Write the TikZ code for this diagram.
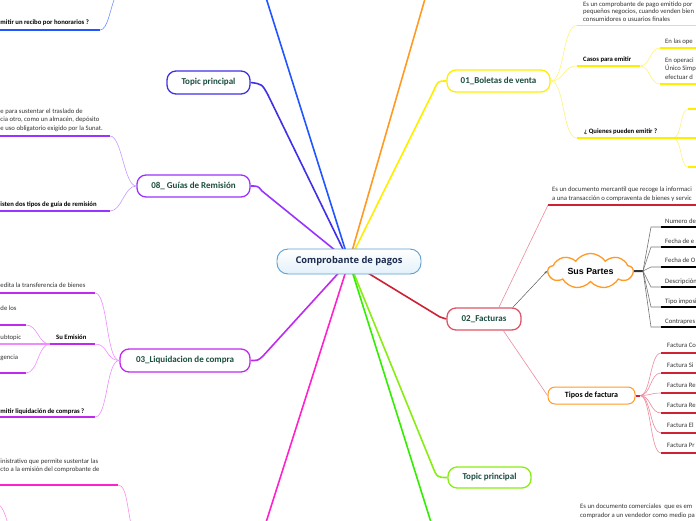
\documentclass[tikz,border=0pt]{standalone}
\usepackage{fontspec}
\setmainfont{Carlito}
\newfontfamily\osans{Open Sans}
\newfontfamily\lsans{Liberation Sans}
\usetikzlibrary{shapes.symbols,arrows.meta,backgrounds}
\definecolor{cblue}{HTML}{2255FF}
\definecolor{cblueL}{HTML}{7090FF}
\definecolor{cindigo}{HTML}{4030E8}
\definecolor{cpurple}{HTML}{9933FF}
\definecolor{cpurpleL}{HTML}{C49BFF}
\definecolor{cviolet}{HTML}{C02AEE}
\definecolor{cvioletL}{HTML}{EE8CFF}
\definecolor{cpink}{HTML}{FF22CC}
\definecolor{cpinkL}{HTML}{FF8CEB}
\definecolor{corange}{HTML}{FF9A22}
\definecolor{cyellow}{HTML}{FFEE00}
\definecolor{cyellowL}{HTML}{FFF27A}
\definecolor{cred}{HTML}{CC2233}
\definecolor{credL}{HTML}{EC8A9C}
\definecolor{credN}{HTML}{DD5568}
\definecolor{clime}{HTML}{88EE11}
\definecolor{cgreen}{HTML}{33EE00}
\definecolor{ctitle}{HTML}{1B4D3E}
\definecolor{ctext}{HTML}{333333}
\definecolor{ccentreB}{HTML}{5B9FD3}
\definecolor{ccentreF}{HTML}{E4F1FA}
\definecolor{ccentreT}{HTML}{1D2D50}
\begin{document}
\begin{tikzpicture}[x=1pt,y=-1pt,
  topic/.style={draw, line width=1.3pt, rounded corners=9pt, fill=white, inner sep=0,
    font=\fontsize{9}{10}\selectfont\bfseries, text=ctitle},
  txt/.style={inner sep=0, font=\fontsize{6.7}{8}\selectfont, text=ctext, anchor=base west},
  txtb/.style={inner sep=0, font=\fontsize{6.7}{8}\selectfont\bfseries, text=black, anchor=base west},
  mbranch/.style={line width=1.6pt},
  subc/.style={line width=0.6pt},
  uline/.style={line width=1.4pt}]
\useasboundingbox (0,0) rectangle (696,520);
\clip (0,0) rectangle (696,520);

% ---------- main nodes ----------
\node[draw=ccentreB, line width=0.9pt, rounded corners=11pt, top color=white, bottom color=ccentreF,
  minimum width=144pt, minimum height=25pt, inner sep=0,
  font=\osans\bfseries\fontsize{9.3}{10}\selectfont, text=ccentreT] (ctr) at (349,261.5) {Comprobante de pagos};
\node[topic, draw=cindigo, minimum width=83pt, minimum height=23pt] (tpa) at (208.5,82.5) {Topic principal};
\node[topic, draw=cpurple, minimum width=113pt, minimum height=22pt] (gu) at (193.5,186) {08\_ Guías de Remisión};
\node[topic, draw=cviolet, minimum width=130pt, minimum height=23pt] (lq) at (185,360.5) {03\_Liquidacion de compra};
\node[topic, draw=cyellow, minimum width=103pt, minimum height=22pt] (bo) at (498.5,81) {01\_Boletas de venta};
\node[topic, draw=credN, minimum width=74pt, minimum height=22pt] (fa) at (484,319) {02\_Facturas};
\node[topic, draw=clime, minimum width=83pt, minimum height=21pt] (tpb) at (489.5,477.5) {Topic principal};
\node[topic, draw=corange, line width=1pt, minimum width=87pt, minimum height=17pt, rounded corners=7pt,
  text=black, font=\fontsize{8}{9}\selectfont\bfseries] (tf) at (591.5,395.5) {Tipos de factura};
\node[cloud, cloud puffs=9, cloud puff arc=110, draw=corange, line width=1.3pt, fill=white, minimum width=85pt,
  minimum height=32pt, inner sep=0, aspect=2.6,
  font=\lsans\bfseries\fontsize{8.9}{10}\selectfont] (sp) at (590.5,271) {Sus Partes};

% off-picture ends
\coordinate (blueEnd) at (262,-15);
\coordinate (orangeEnd) at (429,-15);
\coordinate (pinkEnd) at (262,535);
\coordinate (greenEnd) at (435,535);

\begin{pgfonlayer}{background}
\draw[mbranch, cblue] (ctr.center) -- (blueEnd);
\draw[mbranch, cindigo] (ctr.center) -- (268,95) .. controls (262,84) .. (tpa.east);
\draw[mbranch, cpurple] (ctr.center) -- (262,191) .. controls (258,186) .. (gu.east);
\draw[mbranch, cviolet] (ctr.center) -- (263,356) .. controls (258,360.5) .. (lq.east);
\draw[mbranch, cpink] (ctr.center) -- (pinkEnd);
\draw[mbranch, corange] (ctr.center) -- (orangeEnd);
\draw[mbranch, cyellow] (ctr.center) -- (434,90) .. controls (438,81) .. (bo.west);
\draw[mbranch, cred] (ctr.center) -- (440,317) -- (fa.west);
\draw[mbranch, clime] (ctr.center) -- (432,465) .. controls (437,477.5) .. (tpb.west);
\draw[mbranch, cgreen] (ctr.center) -- (greenEnd);
\end{pgfonlayer}

% ---------- top-left (blue) ----------
\node[txtb] (hon) at (0.3,24) {mitir un recibo por honorarios ?};
\coordinate (honU) at (100,30);
\coordinate (honP) at (116,-5);
\draw[uline, cblue] (-5,30) -- (honU);
\draw[subc, cblueL] (honU) .. controls (108,30) and (110,8) .. (honP);

% ---------- Guias ----------
\node[txt] (g1) at (0.3,113) {e para sustentar el traslado de};
\node[txt] (g2) at (0.3,121.5) {cia otro, como un almacén, depósito};
\node[txt] (g3) at (0.3,130) {e uso obligatorio exigido por la Sunat.};
\coordinate (gU1) at (110,136);
\draw[uline, cpurple] (-5,136) -- (gU1);
\draw[subc, cpurpleL] (gu.west) .. controls (124,186) and (122,136) .. (gU1);
\node[txtb] (g4) at (0.3,206) {isten dos tipos de guía de remisión};
\coordinate (gU2) at (110,211);
\draw[uline, cpurple] (-5,211) -- (gU2);
\draw[subc, cpurpleL] (gu.west) .. controls (124,186) and (122,211) .. (gU2);

% ---------- Liquidacion ----------
\node[txt] (l1) at (0.3,287) {edita la transferencia de bienes};
\coordinate (lU1) at (95,293);
\draw[uline, cviolet] (-5,293) -- (lU1);
\draw[subc, cvioletL] (lq.west) .. controls (106,360.5) and (108,293) .. (lU1);
\node[txtb] (l2) at (56,339.5) {Su Emisión};
\coordinate (lU2) at (95,344);
\coordinate (lU2a) at (50,344);
\draw[uline, cviolet] (lU2a) -- (lU2);
\draw[subc, cvioletL] (lq.west) .. controls (106,360.5) and (108,344) .. (lU2);
\node[txt] (l3) at (0.3,310) {de los};
\coordinate (lU3) at (26,325);
\draw[uline, cviolet] (-5,325) -- (lU3);
\draw[subc, cvioletL] (lU2a) .. controls (38,344) and (38,325) .. (lU3);
\node[txt] (l4) at (0.3,339.5) {ubtopic};
\draw[uline, cvioletL] (-5,344) -- (lU2a);
\node[txt] (l5) at (0.3,359) {gencia};
\coordinate (lU5) at (26,373);
\draw[uline, cviolet] (-5,373) -- (lU5);
\draw[subc, cvioletL] (lU2a) .. controls (38,344) and (38,373) .. (lU5);
\node[txtb] (l6) at (0.3,413) {mitir liquidación de compras ?};
\coordinate (lU6) at (95,417);
\draw[uline, cviolet] (-5,417) -- (lU6);
\draw[subc, cvioletL] (lq.west) .. controls (106,360.5) and (108,417) .. (lU6);

% ---------- pink (bottom-left) ----------
\node[txt] (p1) at (0.3,463) {inistrativo que permite sustentar las};
\node[txt] (p2) at (0.3,471.5) {cto a la emisión del comprobante de};
\coordinate (pU) at (118,485);
\coordinate (pP) at (134,535);
\draw[uline, cpink] (-5,485) -- (pU);
\draw[subc, cpinkL] (pU) .. controls (128,485) and (127,515) .. (pP);
\draw[subc, cpinkL] (-3,503) .. controls (3,507) and (5,514) .. (8,524);

% ---------- Boletas ----------
\node[txt] (b1) at (583,6) {Es un comprobante de pago emitido por};
\node[txt] (b2) at (583,13.5) {pequeños negocios, cuando venden bien};
\node[txt] (b3) at (583,21) {consumidores o usuarios finales};
\coordinate (bU1) at (577,25.5);
\draw[uline, cyellow] (bU1) -- (700,25.5);
\draw[subc, cyellowL] (bo.east) .. controls (565,81) and (562,25.5) .. (bU1);
\node[txtb] (b4) at (583,61.5) {Casos para emitir};
\coordinate (bU2) at (577,66);
\coordinate (bU2e) at (640,66);
\draw[uline, cyellow] (bU2) -- (bU2e);
\draw[subc, cyellowL] (bo.east) .. controls (565,81) and (562,66) .. (bU2);
\node[txt] (b5) at (665,43) {En las ope};
\coordinate (bU5) at (660,48);
\draw[uline, cyellow] (bU5) -- (700,48);
\draw[subc, cyellowL] (bU2e) .. controls (650,66) and (650,48) .. (bU5);
\node[txt] (b6) at (665,62) {En operaci};
\node[txt] (b7) at (665,70.5) {Único Simp};
\node[txt] (b8) at (665,79) {efectuar d};
\coordinate (bU6) at (660,84);
\draw[uline, cyellow] (bU6) -- (700,84);
\draw[subc, cyellowL] (bU2e) .. controls (650,66) and (650,84) .. (bU6);
\node[txtb] (b9) at (584,133) {¿ Quienes pueden emitir ?};
\coordinate (bU9) at (577,138);
\coordinate (bU9e) at (673,138);
\draw[uline, cyellow] (bU9) -- (bU9e);
\draw[subc, cyellowL] (bo.east) .. controls (565,81) and (562,138) .. (bU9);
\coordinate (bQ1) at (688,109);
\coordinate (bQ3) at (688,167);
\draw[subc, cyellowL] (bU9e) .. controls (682,138) and (680,109) .. (bQ1);
\draw[subc, cyellowL] (bU9e) .. controls (682,138) and (680,167) .. (bQ3);
\draw[uline, cyellow] (bQ1) -- (700,109);
\draw[uline, cyellow] (bU9e) -- (700,138);
\draw[uline, cyellow] (bQ3) -- (700,167);

% ---------- Facturas ----------
\node[txt] (f1) at (552,191) {Es un documento mercantil que recoge la informaci};
\node[txt] (f2) at (552,200) {a una transacción o compraventa de bienes y servic};
\coordinate (fU1) at (548,205);
\draw[uline, cred] (fU1) -- (700,205);
\draw[subc, credL] (fa.38) -- (fU1);
\draw[line width=0.5pt, black!65, -{Stealth[length=3pt,width=2.5pt]}] (fa.22) -- (sp.west);
\draw[subc, credL] (fa.-31) -- (tf.west);

% Sus Partes children
\coordinate (spH) at (643,271);
\draw[line width=2pt, black!80] (sp.east) -- (spH);
\foreach \yt/\yu/\lab/\nm in {223/227/{Numero de}/s1, 243/247/{Fecha de e}/s2, 262/267/{Fecha de O}/s3,
    283/287/{Descripción}/s4, 303/307/{Tipo imposi}/s5, 323/327/{Contrapres}/s6}{
  \node[txt] (\nm) at (665,\yt) {\lab};
  \coordinate (\nm u) at (661,\yu);
  \draw[line width=0.6pt, black!55] (spH) -- (651,\yu) -- (\nm u);
  \draw[uline, black] (\nm u) -- (700,\yu);
}

% Tipos de factura children
\coordinate (tfH) at (640,395.5);
\draw[line width=2pt, cred] (tf.east) -- (tfH);
\foreach \yt/\yu/\lab/\nm in {347/353/{Factura Co}/t1, 367/373/{Factura Si}/t2, 387/393/{Factura Re}/t3,
    407/413/{Factura Re}/t4, 427/433/{Factura El}/t5, 447/453/{Factura Pr}/t6}{
  \node[txt] (\nm) at (667,\yt) {\lab};
  \coordinate (\nm u) at (661,\yu);
  \draw[subc, credL] (tfH) .. controls (651,395.5) and (650,\yu) .. (\nm u);
  \draw[uline, cred] (\nm u) -- (700,\yu);
}

% ---------- bottom right text ----------
\node[txt] (r1) at (580,508) {Es un documento comerciales\ \ que es em};
\node[txt] (r2) at (580,517.5) {comprador a un vendedor como medio pa};
\end{tikzpicture}
\end{document}
